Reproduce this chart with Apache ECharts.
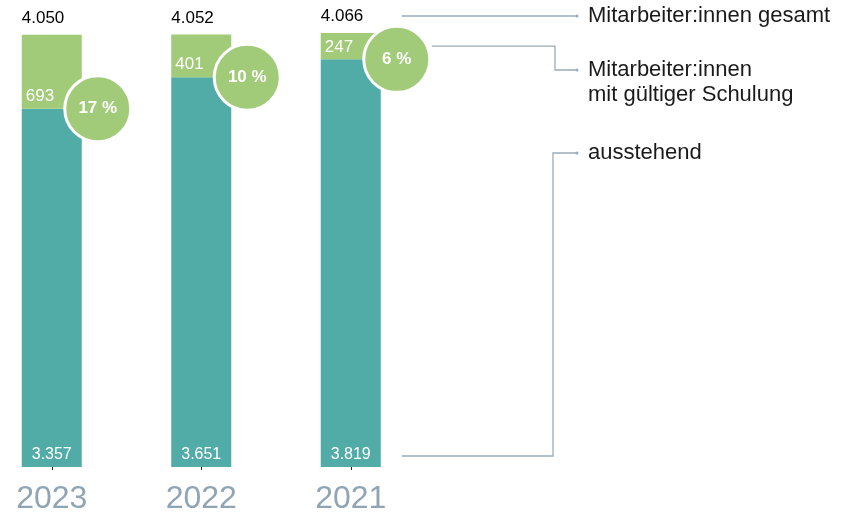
<!DOCTYPE html>
<html lang="de">
<head>
    <meta charset="UTF-8">
    <title>Mitarbeiter:innen Schulung</title>
    <style>
        html, body { margin: 0; padding: 0; background: #fff; }
        #chart { width: 852px; height: 515px; }
    </style>
</head>
<body>
<div id="chart"></div>
<script src="https://cdn.jsdelivr.net/npm/echarts@6/dist/echarts.min.js"></script>
<script>
    // data
    const years = ['2023', '2022', '2021'];
    const lowerValues = [3357, 3651, 3819];
    const upperValues = [693, 401, 247];
    const totals = [4050, 4052, 4066];
    const percents = [17, 10, 6];
    const legendTexts = ['Mitarbeiter:innen gesamt', 'Mitarbeiter:innen\nmit gültiger Schulung', 'ausstehend'];

    const teal = '#51aba6';
    const green = '#a1cb79';
    const lineColor = '#9aacb8';
    const font = '"Liberation Sans", Arial, sans-serif';

    function fmt(v) {
        return String(v).replace(/\B(?=(\d{3})+(?!\d))/g, '.');
    }

    const chart = echarts.init(document.getElementById('chart'));

    chart.setOption({
        animation: false,
        textStyle: { fontFamily: font },
        grid: { left: -23, top: 33, width: 448.5, bottom: 48, outerBoundsMode: 'none', containLabel: false },
        xAxis: {
            type: 'category',
            data: years,
            axisLine: { show: false },
            axisTick: { show: true, alignWithLabel: true, length: 3, lineStyle: { color: '#222' } },
            axisLabel: { color: '#8fa4b4', fontSize: 32, margin: 16 }
        },
        yAxis: { type: 'value', min: 0, max: Math.max(...totals), show: false },
        series: [
            {
                type: 'bar',
                stack: 'a',
                data: lowerValues,
                barWidth: 60,
                itemStyle: { color: teal },
                label: {
                    show: true, position: 'insideBottom', distance: 4,
                    color: '#fff', fontSize: 16,
                    formatter: p => fmt(p.value)
                },
                emphasis: { disabled: true }
            },
            {
                type: 'bar',
                stack: 'a',
                data: upperValues,
                barWidth: 60,
                itemStyle: { color: green },
                label: {
                    show: true, position: 'insideBottomLeft', distance: 4,
                    color: '#fff', fontSize: 17,
                    formatter: p => fmt(p.value)
                },
                emphasis: { disabled: true }
            },
            {
                // totals above the bars
                type: 'scatter',
                data: totals,
                symbolSize: 0,
                itemStyle: { opacity: 1 },
                label: {
                    show: true, position: 'top', align: 'left', offset: [-30, -3],
                    color: '#000', fontSize: 17,
                    formatter: p => fmt(p.value)
                },
                emphasis: { disabled: true },
                silent: true
            },
            {
                // percentage circles at the segment border
                type: 'scatter',
                data: lowerValues,
                symbolSize: 66,
                symbolOffset: [46, 0],
                itemStyle: { color: green, borderColor: '#fff', borderWidth: 3, opacity: 1 },
                label: {
                    show: true, position: 'inside',
                    color: '#fff', fontSize: 17, fontWeight: 'bold',
                    formatter: p => percents[p.dataIndex] + ' %'
                },
                emphasis: { disabled: true },
                z: 5
            }
        ]
    });

    // annotation lines, anchored on the last bar
    const last = years.length - 1;
    const cx = chart.convertToPixel({ xAxisIndex: 0 }, years[last]);
    const yTop = chart.convertToPixel({ yAxisIndex: 0 }, totals[last]);
    const yMid = chart.convertToPixel({ yAxisIndex: 0 }, lowerValues[last] + upperValues[last] / 2);
    const yBottom = chart.convertToPixel({ yAxisIndex: 0 }, 0);

    const endX = 577, textX = 588;
    const y1 = yTop - 17, y2 = 70, y3 = 153;

    function line(points) {
        const end = points[points.length - 1];
        return [
            { type: 'polyline', shape: { points: points }, style: { stroke: lineColor, lineWidth: 1.3, fill: null }, silent: true },
            { type: 'circle', shape: { cx: end[0], cy: end[1], r: 1.5 }, style: { fill: lineColor }, silent: true }
        ];
    }

    const txtStyle = { fill: '#1a1a1a', fontSize: 22, fontFamily: font, lineHeight: 25, verticalAlign: 'top' };

    chart.setOption({
        graphic: [
            ...line([[cx + 51, y1], [endX, y1]]),
            ...line([[cx + 81, yMid], [555, yMid], [555, y2], [endX, y2]]),
            ...line([[cx + 51, yBottom - 11], [553, yBottom - 11], [553, y3], [endX, y3]]),
            { type: 'text', x: textX, y: y1 - 12.5, style: Object.assign({ text: legendTexts[0] }, txtStyle), silent: true },
            { type: 'text', x: textX, y: y2 - 12.5, style: Object.assign({ text: legendTexts[1] }, txtStyle), silent: true },
            { type: 'text', x: textX, y: y3 - 12.5, style: Object.assign({ text: legendTexts[2] }, txtStyle), silent: true }
        ]
    });
</script>
</body>
</html>
